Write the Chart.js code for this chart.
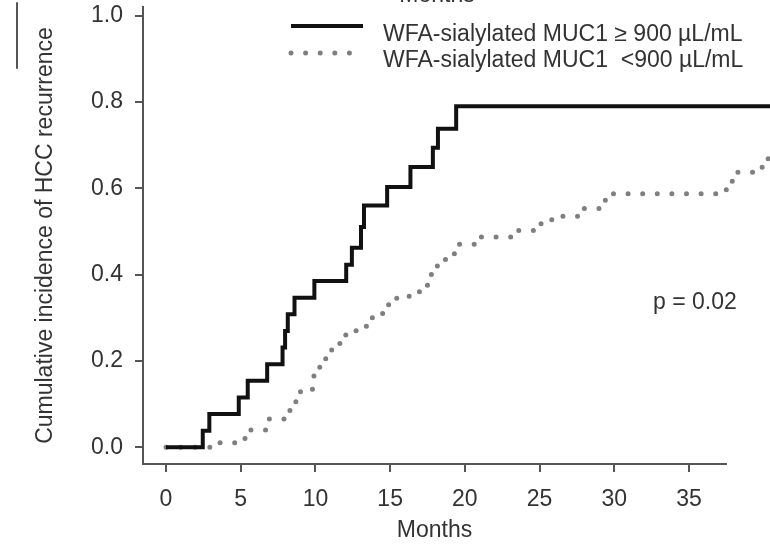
<!DOCTYPE html>
<html>
<head>
<meta charset="utf-8">
<script src="https://cdn.jsdelivr.net/npm/chart.js@4/dist/chart.umd.min.js"></script>
<style>
    body { margin: 0; background: #fff; }
    #wrap { width: 770px; height: 547px; position: relative; }
</style>
</head>
<body>
<div id="wrap"><canvas id="chart"></canvas></div>
<script>
// step times (months) and cumulative incidence
const highMonths = [0, 2.46, 2.9, 4.87, 5.47, 6.77, 7.8, 7.97, 8.15, 8.6, 9.93, 12.06, 12.44, 13.05, 13.25, 14.8, 16.36, 17.86, 18.2, 19.42, 40.6];
const highIncidence = [0, 0.038, 0.077, 0.115, 0.154, 0.192, 0.231, 0.269, 0.308, 0.346, 0.385, 0.423, 0.462, 0.51, 0.56, 0.603, 0.649, 0.694, 0.738, 0.79, 0.79];

const lowMonths = [0, 3.6, 5.2, 5.6, 6.9, 8.0, 8.6, 9.0, 9.8, 9.9, 10.1, 10.5, 10.9, 11.3, 11.8, 12.4, 13.1, 13.5, 14.2, 14.6, 15.1, 16.0, 16.6, 17.3, 17.5, 17.8, 18.4, 19.1, 19.3, 20.9, 23.2, 24.8, 25.6, 26.3, 27.8, 29.2, 29.6, 37.5, 37.9, 39.9, 40.3, 40.6];
const lowIncidence = [0, 0.01, 0.02, 0.04, 0.065, 0.085, 0.105, 0.13, 0.14, 0.165, 0.185, 0.205, 0.225, 0.24, 0.26, 0.27, 0.28, 0.30, 0.31, 0.33, 0.345, 0.35, 0.36, 0.375, 0.40, 0.42, 0.435, 0.445, 0.47, 0.487, 0.502, 0.518, 0.527, 0.535, 0.553, 0.572, 0.587, 0.614, 0.637, 0.664, 0.688, 0.688];

const seriesLabels = ['WFA-sialylated MUC1 \u2265 900 \u00b5L/mL', 'WFA-sialylated MUC1  <900 \u00b5L/mL'];
const xTicks = [0, 5, 10, 15, 20, 25, 30, 35];
const yTicks = [0, 0.2, 0.4, 0.6, 0.8, 1.0];
const pValueText = 'p = 0.02';
const xTitle = 'Months';
const yTitle = 'Cumulative incidence of HCC recurrence';

const fontFamily = "'Liberation Sans', Arial, sans-serif";
const textColor = '#333';
const axisColor = '#555';

function toPoints(xs, ys) {
    return xs.map(function(x, i) { return { x: x, y: ys[i] }; });
}

// legend, p value and the cropped bits of the neighbouring panel
const overlayPlugin = {
    id: 'overlay',
    afterDraw(chart) {
        const ctx = chart.ctx;
        const sets = chart.data.datasets;
        ctx.save();
        ctx.font = '23px ' + fontFamily;
        ctx.fillStyle = textColor;
        ctx.textBaseline = 'alphabetic';
        ctx.textAlign = 'left';

        const rows = [{ lineY: 26, textY: 41 }, { lineY: 53, textY: 67 }];
        sets.forEach(function(ds, i) {
            ctx.beginPath();
            ctx.strokeStyle = ds.borderColor;
            ctx.lineWidth = ds.borderWidth;
            ctx.lineCap = ds.borderCapStyle || 'butt';
            ctx.setLineDash(ds.borderDash || []);
            ctx.moveTo(291, rows[i].lineY);
            ctx.lineTo(363, rows[i].lineY);
            ctx.stroke();
            ctx.setLineDash([]);
            ctx.fillText(ds.label, 383, rows[i].textY);
        });

        const xs = chart.scales.x;
        const ys = chart.scales.y;
        ctx.textAlign = 'center';
        ctx.textBaseline = 'middle';
        ctx.fillText(pValueText, xs.getPixelForValue(35.4), ys.getPixelForValue(0.334));

        // remnants of the panel above
        ctx.textBaseline = 'alphabetic';
        ctx.fillText(xTitle, 437, 2);
        ctx.beginPath();
        ctx.strokeStyle = axisColor;
        ctx.lineWidth = 2;
        ctx.moveTo(17, 3);
        ctx.lineTo(17, 68);
        ctx.stroke();
        ctx.restore();
    }
};

const ctx = document.getElementById('chart').getContext('2d');
new Chart(ctx, {
    type: 'line',
    data: {
        datasets: [{
            label: seriesLabels[0],
            data: toPoints(highMonths, highIncidence),
            borderColor: '#111',
            borderWidth: 4,
            stepped: true,
            pointRadius: 0,
            clip: false
        }, {
            label: seriesLabels[1],
            data: toPoints(lowMonths, lowIncidence),
            borderColor: '#7f7f7f',
            borderWidth: 5,
            borderDash: [0, 14.6],
            borderCapStyle: 'round',
            stepped: true,
            pointRadius: 0,
            clip: false
        }]
    },
    options: {
        responsive: true,
        maintainAspectRatio: false,
        animation: false,
        layout: { padding: { left: 0, right: 44, top: 7, bottom: 0 } },
        plugins: {
            legend: { display: false },
            tooltip: { enabled: false }
        },
        scales: {
            x: {
                type: 'linear',
                bounds: 'data',
                // set range here (not via min/max) so the curves keep running past the axis end
                afterDataLimits: function(scale) {
                    scale.min = -1.54;
                    scale.max = 37.48;
                },
                afterBuildTicks: function(scale) {
                    scale.ticks = xTicks.map(function(v) { return { value: v }; });
                },
                afterFit: function(scale) {
                    scale.height = 83;
                    scale.paddingLeft = 0;
                    scale.paddingRight = 0;
                },
                border: { display: true, color: axisColor, width: 2 },
                grid: { display: true, drawOnChartArea: false, drawTicks: true, tickLength: 8, color: axisColor, lineWidth: 2 },
                ticks: {
                    color: textColor,
                    padding: 14,
                    maxRotation: 0,
                    font: { family: fontFamily, size: 23 },
                    callback: function(v) { return String(v); }
                },
                title: {
                    display: true,
                    text: xTitle,
                    color: textColor,
                    padding: { top: 0, bottom: 3 },
                    font: { family: fontFamily, size: 23 }
                }
            },
            y: {
                type: 'linear',
                min: -0.039,
                max: 1.02,
                afterBuildTicks: function(scale) {
                    scale.ticks = yTicks.map(function(v) { return { value: v }; });
                },
                afterFit: function(scale) {
                    scale.width = 143;
                    scale.paddingTop = 0;
                    scale.paddingBottom = 0;
                },
                border: { display: true, color: axisColor, width: 2 },
                grid: { display: true, drawOnChartArea: false, drawTicks: true, tickLength: 8, color: axisColor, lineWidth: 2 },
                ticks: {
                    color: textColor,
                    padding: 12,
                    font: { family: fontFamily, size: 23 },
                    callback: function(v) { return v.toFixed(1); }
                },
                title: {
                    display: true,
                    text: yTitle,
                    color: textColor,
                    padding: { top: 32, bottom: 0 },
                    font: { family: fontFamily, size: 23 }
                }
            }
        }
    },
    plugins: [overlayPlugin]
});
</script>
</body>
</html>
